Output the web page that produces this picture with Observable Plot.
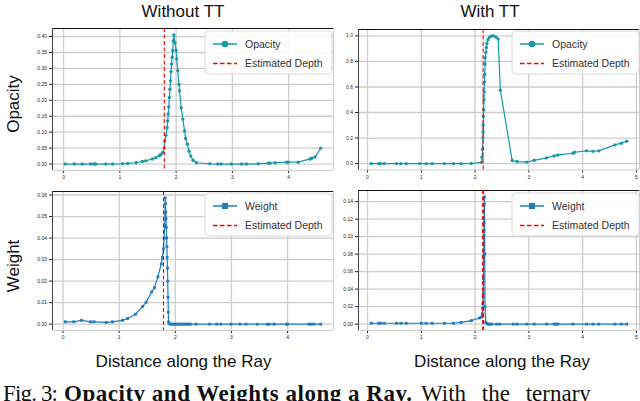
<!DOCTYPE html>
<html><head><meta charset="utf-8">
<script src="https://cdn.jsdelivr.net/npm/d3@7"></script>
<script src="https://cdn.jsdelivr.net/npm/@observablehq/plot@0.6"></script>
<style>
html,body{margin:0;padding:0;background:#fff;}
#wrap{position:relative;width:640px;height:401px;overflow:hidden;font-family:"Liberation Sans",Arial,sans-serif;}
#wrap > svg{position:absolute;}
</style></head><body><div id="wrap"></div>
<script>
// ---- Opacity, without TT ----
const distOpacityNoTT = [0.03,0.19,0.33,0.48,0.54,0.57,0.75,0.87,1.05,1.14,1.29,1.40,1.46,1.58,1.64,1.70,1.73,1.76,1.79,1.80,1.82,1.84,1.85,1.86,1.87,1.88,1.89,1.90,1.91,1.92,1.93,1.94,1.95,1.96,1.98,2.00,2.01,2.03,2.05,2.06,2.09,2.12,2.15,2.17,2.20,2.23,2.26,2.30,2.36,2.60,2.74,2.80,2.98,3.16,3.25,3.46,3.64,3.67,3.76,3.96,3.99,4.17,4.38,4.41,4.47,4.57];
const opacityNoTT = [0,0,0,0,0,0,0,0,0.001,0.002,0.004,0.008,0.010,0.016,0.020,0.026,0.030,0.036,0.050,0.072,0.090,0.114,0.135,0.157,0.180,0.209,0.235,0.261,0.290,0.314,0.335,0.356,0.387,0.405,0.380,0.356,0.330,0.293,0.250,0.230,0.177,0.141,0.104,0.080,0.062,0.040,0.025,0.012,0.004,0.001,0,0,0,0,0,0.001,0.003,0.003,0.004,0.006,0.006,0.006,0.016,0.018,0.022,0.050];
// ---- Opacity, with TT ----
const distOpacityTT = [0.07,0.21,0.24,0.31,0.54,0.62,0.72,0.97,1.09,1.20,1.43,1.60,1.74,1.93,2.12,2.13,2.14,2.145,2.15,2.15,2.155,2.16,2.165,2.17,2.175,2.18,2.185,2.19,2.20,2.21,2.22,2.24,2.27,2.31,2.35,2.39,2.43,2.47,2.69,2.78,2.96,3.10,3.33,3.47,3.54,3.82,3.85,4.07,4.19,4.30,4.60,4.72,4.82];
const opacityTT = [0,0,0,0,0,0,0,0,0,0,0,0,0,0.001,0.01,0.05,0.11,0.2,0.25,0.3,0.37,0.42,0.5,0.56,0.64,0.7,0.78,0.83,0.87,0.91,0.94,0.97,0.99,1.0,1.0,0.99,0.975,0.575,0.024,0.016,0.012,0.026,0.045,0.06,0.068,0.081,0.089,0.1,0.097,0.1,0.147,0.16,0.176];
// ---- Weight, without TT ----
const distWeightNoTT = [0.04,0.19,0.33,0.49,0.55,0.77,0.88,1.06,1.15,1.29,1.42,1.48,1.58,1.63,1.69,1.75,1.77,1.79,1.80,1.81,1.82,1.825,1.83,1.835,1.84,1.845,1.85,1.855,1.86,1.865,1.87,1.875,1.88,1.89,1.91,1.94,1.97,2.00,2.03,2.06,2.09,2.12,2.15,2.18,2.21,2.24,2.27,2.37,2.61,2.74,2.81,2.99,3.15,3.26,3.46,3.64,3.67,3.76,3.98,4.00,4.38,4.42,4.47,4.59];
const weightNoTT = [0.0011,0.0011,0.0018,0.0011,0.0011,0.0008,0.0011,0.0018,0.0026,0.0046,0.0083,0.0102,0.015,0.017,0.022,0.028,0.031,0.035,0.040,0.046,0.0587,0.056,0.052,0.049,0.045,0.040,0.036,0.031,0.026,0.020,0.0125,0.0056,0.001,0.0003,0,0,0,0,0,0,0,0,0,0,0,0,0,0,0,0,0,0,0,0,0,0,0,0,0,0,0,0,0,0];
// ---- Weight, with TT ----
const distWeightTT = [0.07,0.21,0.24,0.31,0.54,0.62,0.72,1.00,1.09,1.20,1.43,1.60,1.74,1.93,2.08,2.12,2.135,2.14,2.145,2.15,2.152,2.155,2.157,2.16,2.162,2.165,2.168,2.17,2.175,2.18,2.185,2.20,2.22,2.25,2.28,2.31,2.40,2.46,2.71,2.78,2.96,3.10,3.33,3.47,3.50,3.54,3.82,4.07,4.19,4.30,4.60,4.72,4.82];
const weightTT = [0.001,0.001,0.001,0.001,0.001,0.001,0.001,0.001,0.001,0.001,0.001,0.001,0.002,0.004,0.007,0.008,0.012,0.018,0.0235,0.031,0.035,0.052,0.069,0.078,0.101,0.107,0.116,0.137,0.1455,0.08,0.02,0.002,0.0005,0,0,0,0,0,0,0,0,0,0,0,0,0,0,0,0,0,0,0,0];
// ---- estimated depths ----
const depthNoTT = 1.79;
const depthTT = 2.15;
// ---- ticks ----
const xTicksNoTT = [0,1,2,3,4];
const xTicksTT = [0,1,2,3,4,5];
const yTicksOpacityNoTT = [0,0.05,0.10,0.15,0.20,0.25,0.30,0.35,0.40];
const yTicksOpacityTT = [0,0.2,0.4,0.6,0.8,1.0];
const yTicksWeightNoTT = [0,0.01,0.02,0.03,0.04,0.05,0.06];
const yTicksWeightTT = [0,0.02,0.04,0.06,0.08,0.10,0.12,0.14];
// ---- text ----
const colTitles = ["Without TT","With TT"];
const rowLabels = ["Opacity","Weight"];
const xLabel = "Distance along the Ray";
const depthLabel = "Estimated Depth";
const captionParts = ["Fig. 3:", "Opacity and Weights along a Ray.", "With the ternary"];

const wrap = document.getElementById("wrap");
const teal = "#1898aa", blue = "#217dbd";
const FONT = '"Liberation Sans", Arial, sans-serif';

function pad(arr){const [a,b]=d3.extent(arr);const m=(b-a)*0.05;return [a-m,b+m];}

function panel(o){
  const data = o.xs.map((x,i)=>({x, y:o.ys[i]}));
  const xd = pad(o.xs), yd = pad(o.ys);
  const svg = Plot.plot({
    width:o.width, height:o.height,
    marginLeft:o.mL, marginRight:o.mR, marginTop:o.mT, marginBottom:o.mB,
    style:{fontSize:"5px", fontFamily:FONT, color:"#222", background:"transparent", overflow:"visible"},
    x:{domain:xd, ticks:o.xTicks, tickSize:3, tickPadding:2, tickFormat:d3.format("d"), label:null},
    y:{domain:yd, ticks:o.yTicks, tickSize:3, tickPadding:2.5, tickFormat:d3.format(o.yFmt), label:null},
    marks:[
      Plot.ruleX(o.xTicks,{stroke:"#cdcdcd", strokeWidth:1.3}),
      Plot.ruleY(o.yTicks,{stroke:"#cdcdcd", strokeWidth:1.3}),
      Plot.ruleY([yd[0]],{stroke:"#cdcdcd", strokeWidth:1}),
      Plot.ruleX([xd[1]],{stroke:"#cdcdcd", strokeWidth:1}),
      Plot.ruleY([yd[1]],{stroke:"#111", strokeWidth:1.2}),
      Plot.ruleX([xd[0]],{stroke:"#444", strokeWidth:1}),
      Plot.line(data,{x:"x", y:"y", stroke:o.color, strokeWidth:1.2}),
      Plot.dot(data,{x:"x", y:"y", fill:o.color, stroke:"none", r:o.r, symbol:o.symbol}),
      Plot.ruleX([o.depth],{stroke:"red", strokeWidth:o.dw, strokeDasharray:"4,2.5"})
    ]
  });
  svg.style.left = o.left+"px"; svg.style.top = o.top+"px";
  wrap.appendChild(svg);
}

panel({xs:distOpacityNoTT, ys:opacityNoTT, depth:depthNoTT, color:teal, symbol:"circle", r:1.7, dw:1.1,
  xTicks:xTicksNoTT, yTicks:yTicksOpacityNoTT, yFmt:".2f",
  left:0, top:0, width:336, height:185, mL:52, mR:3, mT:28, mB:15});
panel({xs:distOpacityTT, ys:opacityTT, depth:depthTT, color:teal, symbol:"circle", r:1.7, dw:1.1,
  xTicks:xTicksTT, yTicks:yTicksOpacityTT, yFmt:".1f",
  left:320, top:0, width:320, height:185, mL:38, mR:1, mT:29, mB:15.5});
panel({xs:distWeightNoTT, ys:weightNoTT, depth:depthNoTT, color:blue, symbol:"square", r:1.6, dw:1.1,
  xTicks:xTicksNoTT, yTicks:yTicksWeightNoTT, yFmt:".2f",
  left:0, top:180, width:336, height:170, mL:52, mR:3, mT:11, mB:20});
panel({xs:distWeightTT, ys:weightTT, depth:depthTT, color:blue, symbol:"square", r:1.6, dw:2,
  xTicks:xTicksTT, yTicks:yTicksWeightTT, yFmt:".2f",
  left:320, top:180, width:320, height:170, mL:38, mR:1, mT:10, mB:20});

// ---- overlay: titles, labels, legends, caption ----
const ov = d3.create("svg").attr("width",640).attr("height",401)
  .style("left","0px").style("top","0px").attr("font-family",FONT);
const txt = (x,y,s,size,anchor)=>ov.append("text").attr("x",x).attr("y",y)
  .attr("font-size",size).attr("text-anchor",anchor||"start").attr("fill","#111").text(s);

txt(183,17,colTitles[0],17,"middle");
txt(490,17,colTitles[1],17,"middle");
ov.append("text").attr("transform","translate(19,104) rotate(-90)").attr("text-anchor","middle")
  .attr("font-size",17).attr("fill","#111").text(rowLabels[0]);
ov.append("text").attr("transform","translate(19,266) rotate(-90)").attr("text-anchor","middle")
  .attr("font-size",17).attr("fill","#111").text(rowLabels[1]);
txt(183.5,367,xLabel,17,"middle");
txt(502,367,xLabel,17,"middle");

function legend(x0,y0,label,color,marker){
  const g = ov.append("g");
  g.append("rect").attr("x",x0).attr("y",y0).attr("width",127).attr("height",43).attr("rx",4)
    .attr("fill","#fff").attr("fill-opacity",0.85).attr("stroke","#d9d9d9").attr("stroke-width",1);
  const r1 = y0+13, r2 = y0+32.5;
  g.append("line").attr("x1",x0+8).attr("x2",x0+32).attr("y1",r1).attr("y2",r1)
    .attr("stroke",color).attr("stroke-width",1.5);
  if(marker==="circle") g.append("circle").attr("cx",x0+20).attr("cy",r1).attr("r",3.3).attr("fill",color);
  else g.append("rect").attr("x",x0+17).attr("y",r1-3).attr("width",6).attr("height",6).attr("fill",color);
  g.append("text").attr("x",x0+40).attr("y",r1+3.8).attr("font-size",10.5).attr("fill","#333").text(label);
  g.append("line").attr("x1",x0+8).attr("x2",x0+32).attr("y1",r2).attr("y2",r2)
    .attr("stroke","red").attr("stroke-width",1.5).attr("stroke-dasharray","4.5,2.5");
  g.append("text").attr("x",x0+40).attr("y",r2+3.8).attr("font-size",10.5).attr("fill","#333").text(depthLabel);
}
legend(205,31,rowLabels[0],teal,"circle");
legend(512,31,rowLabels[0],teal,"circle");
legend(205,193,rowLabels[1],blue,"square");
legend(512,193,rowLabels[1],blue,"square");

const cap = ov.append("text").attr("y",401).attr("font-family",'"Liberation Serif","Times New Roman",serif')
  .attr("font-size",23).attr("fill","#111");
cap.append("tspan").attr("x",3).attr("textLength",55).attr("lengthAdjust","spacing").text(captionParts[0]);
cap.append("tspan").attr("x",64).attr("font-weight","bold").attr("textLength",348).attr("lengthAdjust","spacing").text(captionParts[1]);
cap.append("tspan").attr("x",421).attr("word-spacing","10px").text(captionParts[2]);

wrap.appendChild(ov.node());
</script></body></html>
